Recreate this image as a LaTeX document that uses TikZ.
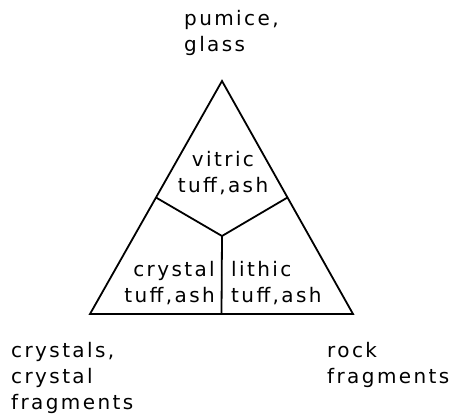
\documentclass[tikz,border=0pt]{standalone}
\usepackage{fontspec}
\setmainfont{DejaVu Sans}[LetterSpace=12]
\usetikzlibrary{positioning,calc}
\begin{document}
\begin{tikzpicture}[x=1pt,y=-1pt,
    edge/.style={line width=1.8pt,line join=miter},
    lab/.style={font=\fontsize{20}{26}\selectfont,inner sep=0pt}]
  \useasboundingbox (0,0) rectangle (453,415);
  % corners of the triangle
  \coordinate (apex) at (222,81);
  \coordinate (bl) at (90,314);
  \coordinate (br) at (353,314);
  \coordinate (ctr) at (222,236);
  \draw[edge] (apex) -- (bl) -- (br) -- cycle;
  \foreach \a/\b in {apex/bl,apex/br,bl/br}
    \draw[edge] (ctr) -- ($(\a)!0.5!(\b)$);
  % end members
  \node[lab,align=left,anchor=base west] (glass) at (184,52) {pumice,\\glass};
  \node[lab,align=left,anchor=base west] (crys) at (11,409) {crystals,\\crystal\\fragments};
  \node[lab,align=left,anchor=base west] (rock) at (327,383) {rock\\fragments};
  % fields
  \node[lab,align=center,anchor=base] (vitric) at (223,192) {vitric\\tuff,ash};
  \node[lab,align=right,anchor=base east] (crystal) at (215,302) {crystal\\tuff,ash};
  \node[lab,align=left,anchor=base west] (lithic) at (231,302) {lithic\\tuff,ash};
\end{tikzpicture}
\end{document}
